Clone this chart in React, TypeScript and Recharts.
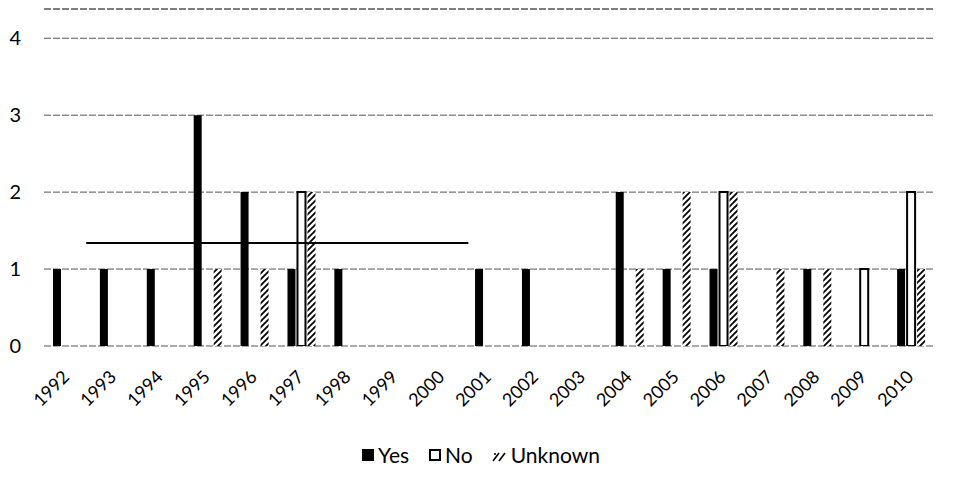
import React from 'react';
import { ComposedChart, Bar, XAxis, YAxis, CartesianGrid, ReferenceLine, Legend } from 'recharts';

const years = ['1992','1993','1994','1995','1996','1997','1998','1999','2000','2001','2002','2003','2004','2005','2006','2007','2008','2009','2010'];
const yesValues = [1,1,1,3,2,1,1,0,0,1,1,0,2,1,1,0,1,0,1];
const noValues = [0,0,0,0,0,2,0,0,0,0,0,0,0,0,2,0,0,1,2];
const unknownValues = [0,0,0,1,1,2,0,0,0,0,0,0,1,2,2,1,1,0,1];
const yTicks = [0,1,2,3,4];
const yMax = 4.38;
// horizontal annotation line (value, start/end in category units)
const markLineValue = 1.34;
const markLineFrom = 0.9;
const markLineTo = 9.05;

const data = years.map((y, i) => ({
  year: y,
  idx: i + 0.5,
  Yes: yesValues[i],
  No: noValues[i],
  Unknown: unknownValues[i],
}));

const FONT = 'Lato, "Open Sans", sans-serif';

const XTick = (props: any) => {
  const { x, y, payload } = props;
  const ax = x + 3;
  const ay = y + 32;
  return (
    <text x={ax} y={ay} transform={`rotate(-45, ${ax}, ${ay})`} textAnchor="end" fontSize={18} fontFamily={FONT} fill="#000">
      {payload.value}
    </text>
  );
};

const LegendContent = () => (
  <div style={{ display: 'flex', justifyContent: 'center', alignItems: 'center', fontFamily: FONT, fontSize: 21, color: '#000', lineHeight: '25px' }}>
    <svg width={12} height={12} style={{ marginRight: 4 }}>
      <rect x={0} y={0} width={12} height={12} fill="#000" />
    </svg>
    <span style={{ marginRight: 20 }}>Yes</span>
    <svg width={12} height={12} style={{ marginRight: 4 }}>
      <rect x={1} y={1} width={10} height={10} fill="#fff" stroke="#000" strokeWidth={2} />
    </svg>
    <span style={{ marginRight: 18 }}>No</span>
    <svg width={16} height={14} style={{ marginRight: 4 }}>
      <path d="M2,13 L8,5 M8,13 L14,5" stroke="#000" strokeWidth={1.6} />
      <circle cx={4} cy={6} r={1} fill="#000" />
    </svg>
    <span>Unknown</span>
  </div>
);

export default function App() {
  return (
    <div style={{ position: 'absolute', left: 0, top: 0, width: 962, height: 492, background: '#fff' }}>
      <ComposedChart
        width={962}
        height={492}
        data={data}
        margin={{ top: 9, right: 27, bottom: 86, left: 0 }}
        barSize={8}
        barGap={2}
      >
        <defs>
          <pattern id="hatch" patternUnits="userSpaceOnUse" width={6} height={6}>
            <rect width={6} height={6} fill="#fff" />
            <path d="M-1,1 l2,-2 M0,6 l6,-6 M5,7 l2,-2" stroke="#000" strokeWidth={1.8} />
          </pattern>
        </defs>
        <CartesianGrid vertical={false} stroke="#555" strokeDasharray="7 2" />
        <XAxis
          dataKey="year"
          xAxisId="cat"
          interval={0}
          axisLine={false}
          tickLine={false}
          tickSize={0}
          tickMargin={0}
          height={60}
          tick={<XTick />}
        />
        <XAxis xAxisId="num" type="number" dataKey="idx" domain={[0, 19]} hide allowDataOverflow />
        <YAxis
          domain={[0, yMax]}
          ticks={yTicks}
          width={44}
          axisLine={false}
          tickLine={false}
          tickSize={0}
          tickMargin={23}
          tick={{ fontSize: 20, fill: '#000', fontFamily: FONT }}
          allowDataOverflow
        />
        <ReferenceLine xAxisId="cat" y={yMax} stroke="#555" strokeDasharray="7 2" />
        <Bar xAxisId="cat" dataKey="Yes" fill="#000" isAnimationActive={false} />
        <Bar xAxisId="cat" dataKey="No" fill="#fff" stroke="#000" strokeWidth={2} isAnimationActive={false} />
        <Bar xAxisId="cat" dataKey="Unknown" fill="url(#hatch)" isAnimationActive={false} />
        <ReferenceLine
          xAxisId="num"
          segment={[{ x: markLineFrom, y: markLineValue }, { x: markLineTo, y: markLineValue }]}
          stroke="#000"
          strokeWidth={2}
          ifOverflow="extendDomain"
        />
        <Legend
          verticalAlign="middle"
          content={<LegendContent />}
          wrapperStyle={{ position: 'absolute', top: 442, left: 0, width: 962 }}
        />
      </ComposedChart>
    </div>
  );
}
